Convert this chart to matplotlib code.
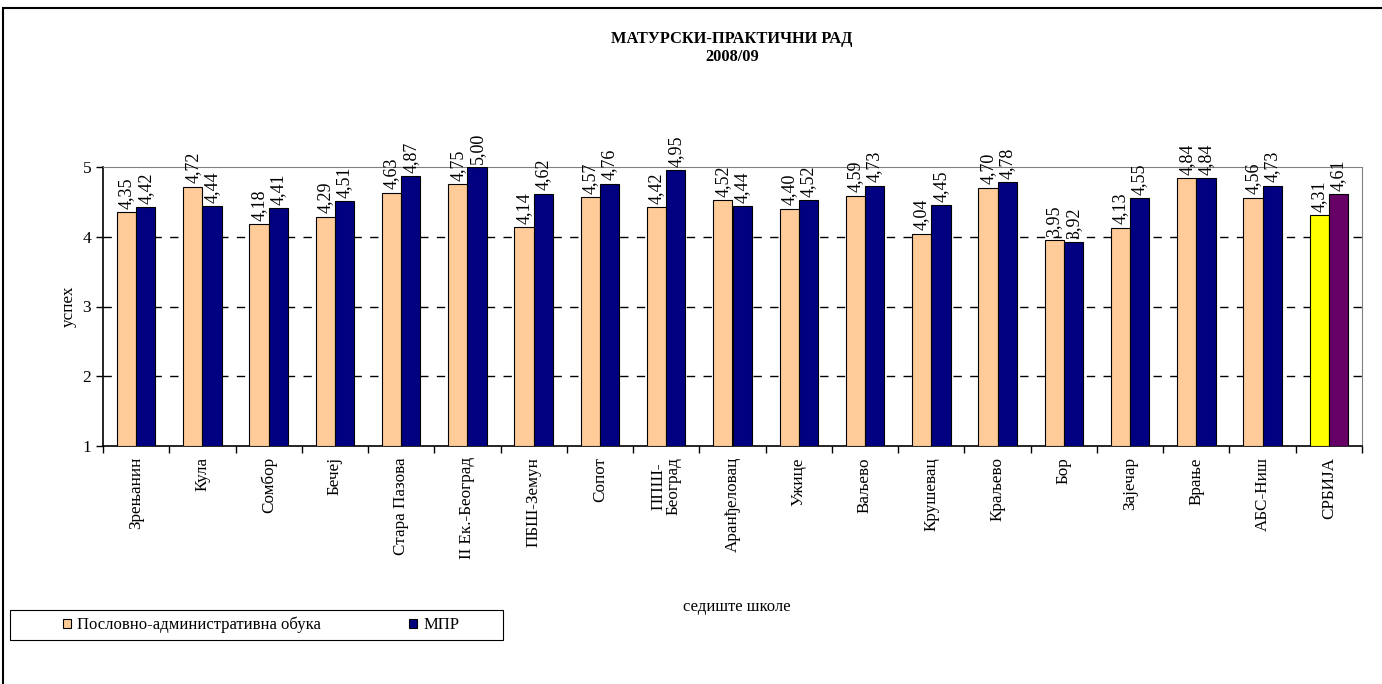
import matplotlib.pyplot as plt
from matplotlib.patches import Rectangle, Patch
import numpy as np

plt.rcParams['font.family'] = ['Liberation Serif', 'DejaVu Serif']

# data
schools = ['Зрењанин', 'Кула', 'Сомбор', 'Бечеј', 'Стара Пазова', 'II Ек.-Београд',
           'ПБШ-Земун', 'Сопот', 'ППШ-\nБеоград', 'Аранђеловац', 'Ужице', 'Ваљево',
           'Крушевац', 'Краљево', 'Бор', 'Зајечар', 'Врање', 'АБС-Ниш', 'СРБИЈА']
pao = [4.35, 4.72, 4.18, 4.29, 4.63, 4.75, 4.14, 4.57, 4.42, 4.52, 4.40, 4.59,
       4.04, 4.70, 3.95, 4.13, 4.84, 4.56, 4.31]
mpr = [4.42, 4.44, 4.41, 4.51, 4.87, 5.00, 4.62, 4.76, 4.95, 4.44, 4.52, 4.73,
       4.45, 4.78, 3.92, 4.55, 4.84, 4.73, 4.61]
yticks = [1, 2, 3, 4, 5]

c_pao = '#FFCC99'
c_mpr = '#000080'
cols_pao = [c_pao] * (len(schools) - 1) + ['#FFFF00']
cols_mpr = [c_mpr] * (len(schools) - 1) + ['#660066']

W, H = 1382, 684
fig = plt.figure(figsize=(W / 100, H / 100), dpi=100)
ax = fig.add_axes([103 / W, 1 - 446 / H, (1362 - 103) / W, (446 - 167) / H])

x = np.arange(len(schools))
bw = 0.29
b1 = ax.bar(x - bw / 2, np.array(pao) - 1, bw, bottom=1, color=cols_pao,
            edgecolor='black', linewidth=0.8, zorder=3)
b2 = ax.bar(x + bw / 2, np.array(mpr) - 1, bw, bottom=1, color=cols_mpr,
            edgecolor='black', linewidth=0.8, zorder=3)

for bars, vals in ((b1, pao), (b2, mpr)):
    for r, v in zip(bars, vals):
        ax.annotate(f'{v:.2f}'.replace('.', ','), (r.get_x() + r.get_width() / 2, v),
                    xytext=(0, 2.5), textcoords='offset points', rotation=90,
                    ha='center', va='bottom', fontsize=13)

ax.set_xlim(-0.5, len(schools) - 0.5)
ax.set_ylim(1, 5)
ax.set_yticks(yticks)
ax.set_yticklabels([str(t) for t in yticks], fontsize=12.5)
for t in [2, 3, 4]:
    ax.axhline(t, color='black', linestyle=(0, (6, 6)), linewidth=1, zorder=1)

ax.set_xticks(np.arange(len(schools) + 1) - 0.5)
ax.set_xticklabels([])
ax.set_xticks(x, minor=True)
ax.set_xticklabels(schools, minor=True, rotation=90, fontsize=12.3, va='top',
                   linespacing=0.95)
ax.tick_params(axis='x', which='minor', length=0, pad=8)
ax.tick_params(axis='both', which='major', direction='out', length=5, width=1)

ax.spines['top'].set_color('#808080')
ax.spines['right'].set_color('#808080')
ax.spines['left'].set_linewidth(1.2)
ax.spines['bottom'].set_linewidth(1.2)

ax.set_ylabel('успех', fontsize=12.3, labelpad=4)

fig.text(732 / W, 1 - 48 / H, 'МАТУРСКИ-ПРАКТИЧНИ РАД\n2008/09', ha='center',
         va='center', fontsize=11.8, fontweight='bold', linespacing=1.2)
fig.text(737 / W, 1 - 607 / H, 'седиште школе', ha='center', va='center',
         fontsize=12)

# outer chart frame
fig.patches.append(Rectangle((3 / W, -0.05), 1.1, 1 - 8 / H + 0.05,
                             transform=fig.transFigure, fill=False,
                             edgecolor='black', linewidth=1.5))
# legend box
fig.patches.append(Rectangle((10 / W, 1 - 640 / H), 493 / W, 30 / H,
                             transform=fig.transFigure, facecolor='white',
                             edgecolor='black', linewidth=0.8))
handles = [Patch(facecolor=c_pao, edgecolor='black', linewidth=0.8),
           Patch(facecolor=c_mpr, edgecolor='black', linewidth=0.8)]
fig.legend(handles, ['Пословно-административна обука', 'МПР'], ncol=2,
           loc='center left', bbox_to_anchor=(56 / W, 1 - 625 / H),
           frameon=False, fontsize=12, handlelength=0.5, handleheight=0.5,
           handletextpad=0.35, columnspacing=5.3, borderaxespad=0)

fig.savefig('out.png', dpi=100)
